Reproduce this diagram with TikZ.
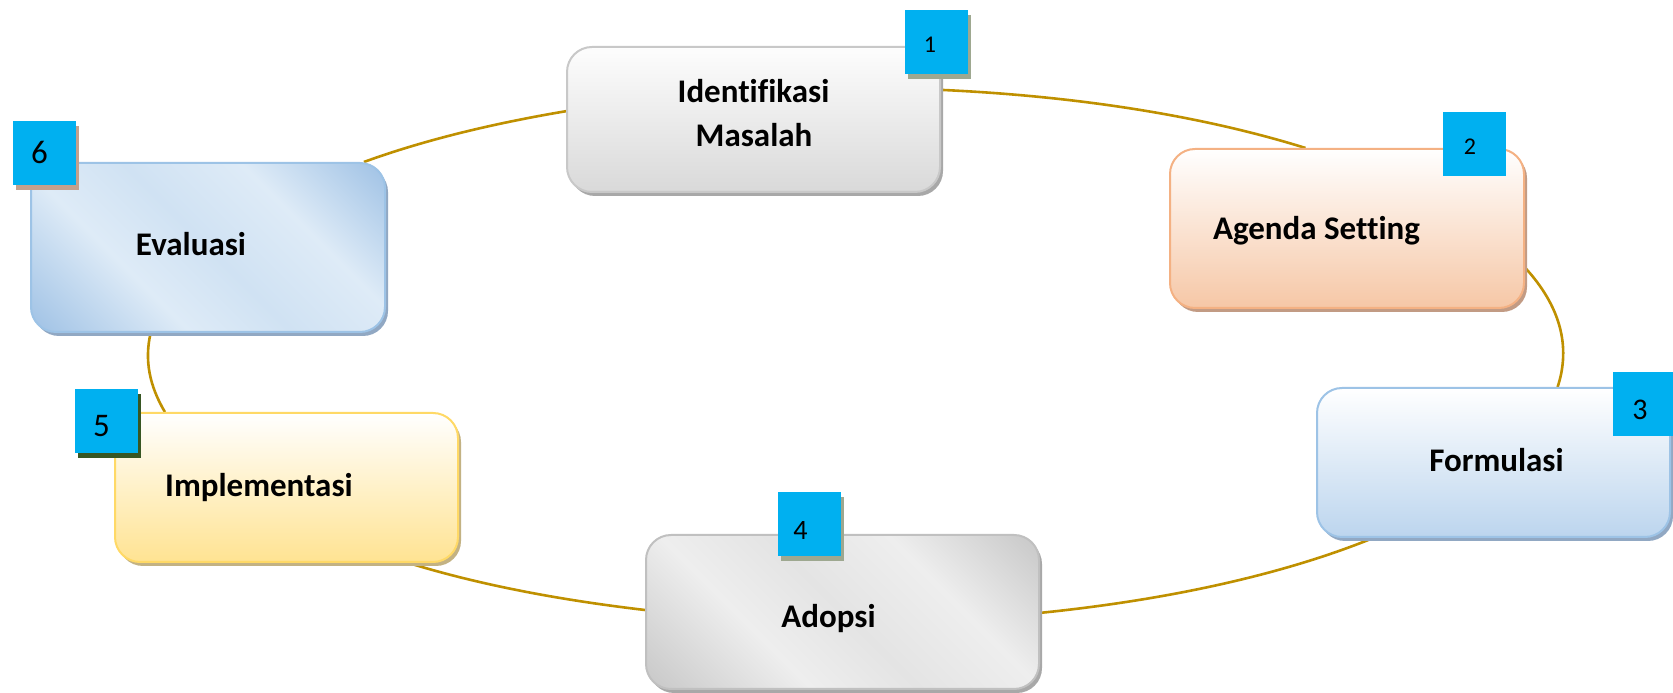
\documentclass[tikz,border=0pt]{standalone}
\usepackage{fontspec}
\setmainfont{Carlito}[Ligatures=NoCommon]
\usetikzlibrary{shadows,backgrounds}

% palette
\definecolor{ring}{HTML}{BF9000}
\definecolor{badgeblue}{HTML}{00B0F0}
\definecolor{greyedge}{HTML}{C8C8C8}
\definecolor{greytop}{HTML}{FDFDFD}
\definecolor{greybot}{HTML}{D9D9D9}
\definecolor{greyshadow}{HTML}{A8A8A8}
\definecolor{peachedge}{HTML}{F4B183}
\definecolor{peachbot}{HTML}{F6C7A6}
\definecolor{peachshadow}{HTML}{C29B84}
\definecolor{skyedge}{HTML}{9DC3E6}
\definecolor{skybot}{HTML}{BCD5EE}
\definecolor{skyshadow}{HTML}{91A8C3}
\definecolor{sandedge}{HTML}{FFD966}
\definecolor{sandbot}{HTML}{FFE392}
\definecolor{sandshadow}{HTML}{C3B283}
\definecolor{evdark}{HTML}{A0C2E5}
\definecolor{evlight}{HTML}{DEEBF7}
\definecolor{evmid}{HTML}{D0E2F3}
\definecolor{addark}{HTML}{C8C8C8}
\definecolor{adlight}{HTML}{EEEEEE}
\definecolor{admid}{HTML}{E4E4E4}
\definecolor{adedge}{HTML}{C0C0C0}
\definecolor{tagshadowA}{HTML}{9EA890}
\definecolor{tagshadowB}{HTML}{375623}
\definecolor{tagshadowC}{HTML}{C4A08C}

% diagonal banded fills
\pgfdeclarehorizontalshading{evalband}{100bp}{color(0bp)=(evdark); color(15bp)=(evdark); color(36bp)=(evlight); color(50bp)=(evmid); color(66bp)=(evlight); color(85bp)=(evdark); color(100bp)=(evdark)}
\pgfdeclarehorizontalshading{adopband}{100bp}{color(0bp)=(addark); color(15bp)=(addark); color(36bp)=(adlight); color(50bp)=(admid); color(66bp)=(adlight); color(85bp)=(addark); color(100bp)=(addark)}

\begin{document}
\begin{tikzpicture}[x=1pt,y=1pt,
  box/.style={rectangle, rounded corners=25pt, line width=2pt, inner sep=0pt},
  boxshadow/.style={general shadow={fill=#1, shadow xshift=3pt, shadow yshift=-4pt}},
  tag/.style={rectangle, fill=badgeblue, inner sep=0pt, minimum width=63pt, minimum height=64pt},
  tagshadow/.style={general shadow={fill=#1, shadow xshift=3pt, shadow yshift=-5pt}},
  lbl/.style={anchor=base, inner sep=0pt, font=\fontsize{33}{40}\selectfont\bfseries},
  num/.style={anchor=center, inner sep=0pt, font=\fontsize{#1}{#1}\selectfont},
  link/.style={draw=ring, line width=2.6pt}]

\useasboundingbox (0,0) rectangle (1673,693);
\clip (0,0) rectangle (1673,693);

% stage boxes
\node[box, boxshadow=greyshadow, draw=greyedge, top color=greytop, bottom color=greybot,
      minimum width=373pt, minimum height=145pt] (b1) at (753.5,573.5) {};
\node[box, boxshadow=peachshadow, draw=peachedge, top color=white, bottom color=peachbot,
      minimum width=354pt, minimum height=159pt] (b2) at (1347,464.5) {};
\node[box, boxshadow=skyshadow, draw=skyedge, top color=white, bottom color=skybot,
      minimum width=353pt, minimum height=149pt] (b3) at (1493.5,230.5) {};
\node[box, boxshadow=greyshadow, draw=adedge, shading=adopband, shading angle=45,
      minimum width=393pt, minimum height=154pt] (b4) at (842.5,81) {};
\node[box, boxshadow=sandshadow, draw=sandedge, top color=white, bottom color=sandbot,
      minimum width=343pt, minimum height=149pt] (b5) at (286.5,205.5) {};
\node[box, boxshadow=skyshadow, draw=skyedge, shading=evalband, shading angle=45,
      minimum width=354pt, minimum height=169pt] (b6) at (208,445.5) {};

% stage titles
\node[lbl] (t1a) at ([shift={(0pt,16.5pt)}]b1.center) {Identifikasi};
\node[lbl] (t1b) at ([shift={(0.5pt,-27.5pt)}]b1.center) {Masalah};
\node[lbl] (t2) at ([shift={(-30.5pt,-11.5pt)}]b2.center) {Agenda Setting};
\node[lbl] (t3) at ([shift={(3pt,-9.5pt)}]b3.center) {Formulasi};
\node[lbl] (t4) at ([shift={(-14pt,-16pt)}]b4.center) {Adopsi};
\node[lbl] (t5) at ([shift={(-27.5pt,-9.5pt)}]b5.center) {Implementasi};
\node[lbl] (t6) at ([shift={(-17pt,-8.5pt)}]b6.center) {Evaluasi};

% numbered tags
\node[tag, tagshadow=tagshadowA] (g1) at (936,650.5) {};
\node[tag] (g2) at (1474.5,548.5) {};
\node[tag] (g3) at (1644.5,289) {};
\node[tag, tagshadow=tagshadowA] (g4) at (809,168.5) {};
\node[tag, tagshadow=tagshadowB] (g5) at (106.5,272) {};
\node[tag, tagshadow=tagshadowC] (g6) at (44,539.5) {};

\node[num=24] (n1) at ([shift={(-6pt,-2.5pt)}]g1.center) {1};
\node[num=24] (n2) at ([shift={(-4.5pt,-2.5pt)}]g2.center) {2};
\node[num=30] (n3) at ([shift={(-4.5pt,-5.5pt)}]g3.center) {3};
\node[num=28] (n4) at ([shift={(-8.5pt,-6.5pt)}]g4.center) {4};
\node[num=33] (n5) at ([shift={(-5pt,-5pt)}]g5.center) {5};
\node[num=33] (n6) at ([shift={(-4.5pt,1pt)}]g6.center) {6};

% the cycle links, behind the boxes
\begin{scope}[on background layer]
\draw[link] ([yshift=29.6pt]b1.east) .. controls +(-2.6:134.4) and +(162.7:109.4) .. ([xshift=-41.5pt]b2.north);
\draw[link] ([yshift=-39.1pt]b2.east) .. controls +(-47.5:52.4) and +(71.7:42.7) .. ([xshift=64.1pt]b3.north);
\draw[link] ([xshift=-120.3pt]b3.south) .. controls +(-157.9:97.5) and +(5.8:128.7) .. ([yshift=-0.9pt]b4.east);
\draw[link] ([yshift=2pt]b4.west) .. controls +(173.3:87.4) and +(-17.1:73.7) .. ([xshift=122.1pt]b5.south);
\draw[link] ([xshift=-121.6pt]b5.north) .. controls +(120.5:30.9) and +(-102.9:27.8) .. ([xshift=-57.4pt]b6.south);
\draw[link] ([xshift=155.9pt]b6.north) .. controls +(20.0:62.9) and +(189.57:76.1) .. ([yshift=8.3pt]b1.west);
\end{scope}
\end{tikzpicture}
\end{document}
